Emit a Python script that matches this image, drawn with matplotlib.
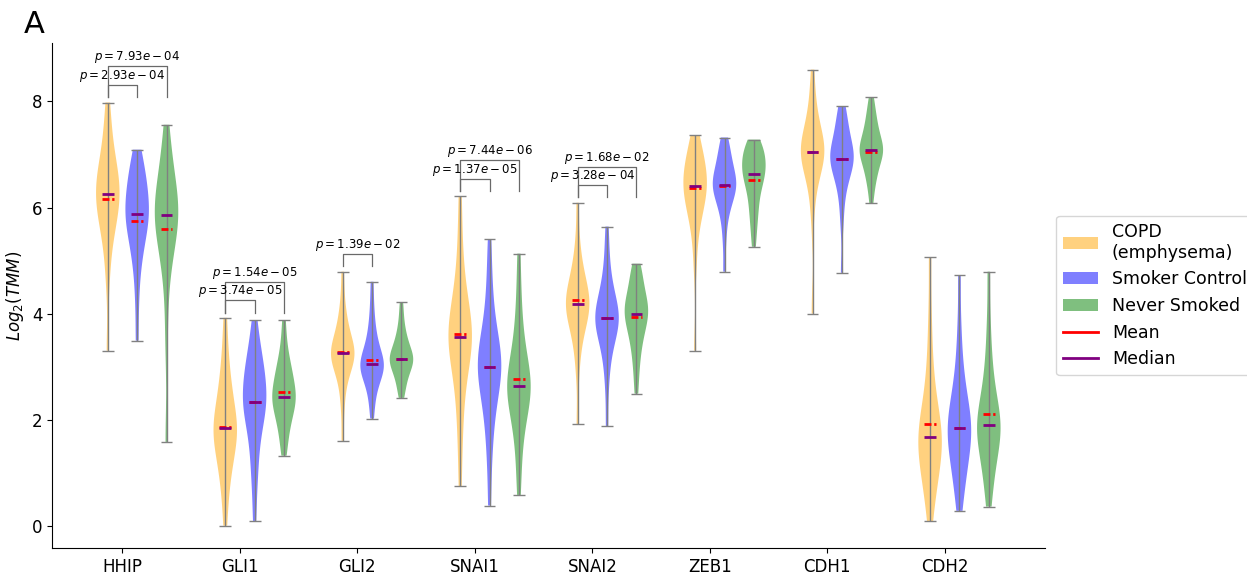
import numpy as np
import matplotlib
matplotlib.use('Agg')
import matplotlib.pyplot as plt
from matplotlib.patches import Patch
from matplotlib.lines import Line2D

genes = ['HHIP', 'GLI1', 'GLI2', 'SNAI1', 'SNAI2', 'ZEB1', 'CDH1', 'CDH2']
groups = ['COPD\n(emphysema)', 'Smoker Control', 'Never Smoked']

# log2(TMM) 값 (그림에서 읽은 분포 근사)
copd_vals = [
    [3.30, 4.6, 5.1, 5.4, 5.6, 5.75, 5.85, 5.95, 6.05, 6.15, 6.22, 6.3, 6.38, 6.45, 6.55, 6.65, 6.75, 6.9, 7.05, 7.3, 7.6, 7.98],
    [0.0, 0.5, 0.8, 1.0, 1.2, 1.35, 1.45, 1.55, 1.65, 1.75, 1.82, 1.88, 1.95, 2.05, 2.15, 2.3, 2.45, 2.6, 2.8, 3.05, 3.4, 3.92],
    [1.60, 2.2, 2.55, 2.75, 2.9, 3.0, 3.07, 3.13, 3.18, 3.22, 3.24, 3.26, 3.3, 3.36, 3.42, 3.5, 3.6, 3.72, 3.85, 4.0, 4.3, 4.79],
    [0.74, 1.5, 2.0, 2.4, 2.7, 2.95, 3.1, 3.25, 3.38, 3.48, 3.53, 3.57, 3.65, 3.75, 3.88, 4.0, 4.15, 4.35, 4.6, 4.95, 5.5, 6.21],
    [1.91, 2.9, 3.3, 3.55, 3.7, 3.82, 3.92, 4.0, 4.07, 4.13, 4.16, 4.2, 4.26, 4.33, 4.4, 4.48, 4.58, 4.7, 4.85, 5.05, 5.4, 6.09],
    [3.30, 4.9, 5.4, 5.7, 5.85, 5.97, 6.07, 6.15, 6.25, 6.33, 6.38, 6.42, 6.48, 6.55, 6.62, 6.7, 6.78, 6.87, 6.97, 7.08, 7.2, 7.36],
    [4.00, 5.8, 6.25, 6.5, 6.65, 6.77, 6.86, 6.93, 6.99, 7.03, 7.05, 7.07, 7.11, 7.17, 7.24, 7.32, 7.42, 7.55, 7.7, 7.9, 8.2, 8.60],
    [0.08, 0.45, 0.7, 0.88, 1.02, 1.15, 1.27, 1.38, 1.48, 1.58, 1.65, 1.71, 1.8, 1.9, 2.02, 2.16, 2.34, 2.58, 2.9, 3.35, 4.0, 5.06],
]
smoker_vals = [
    [3.49, 4.2, 4.7, 5.0, 5.2, 5.35, 5.5, 5.6, 5.7, 5.8, 5.85, 5.9, 6.0, 6.1, 6.2, 6.3, 6.4, 6.5, 6.6, 6.75, 6.9, 7.09],
    [0.09, 0.7, 1.05, 1.35, 1.6, 1.8, 1.97, 2.1, 2.2, 2.28, 2.32, 2.36, 2.5, 2.62, 2.72, 2.82, 2.92, 3.02, 3.15, 3.3, 3.55, 3.87],
    [2.02, 2.3, 2.5, 2.65, 2.75, 2.83, 2.9, 2.95, 2.99, 3.02, 3.03, 3.05, 3.1, 3.17, 3.25, 3.33, 3.42, 3.55, 3.7, 3.9, 4.2, 4.60],
    [0.38, 1.15, 1.6, 1.95, 2.2, 2.4, 2.55, 2.7, 2.82, 2.92, 2.98, 3.02, 3.1, 3.2, 3.3, 3.42, 3.55, 3.75, 4.0, 4.35, 4.8, 5.40],
    [1.88, 2.6, 3.0, 3.25, 3.42, 3.55, 3.65, 3.73, 3.81, 3.87, 3.9, 3.92, 3.98, 4.05, 4.13, 4.22, 4.32, 4.45, 4.62, 4.85, 5.2, 5.64],
    [4.79, 5.35, 5.7, 5.9, 6.03, 6.13, 6.21, 6.28, 6.34, 6.39, 6.42, 6.44, 6.5, 6.56, 6.62, 6.69, 6.77, 6.86, 6.96, 7.07, 7.19, 7.32],
    [4.77, 5.7, 6.1, 6.35, 6.5, 6.62, 6.72, 6.8, 6.86, 6.9, 6.92, 6.94, 6.99, 7.05, 7.12, 7.2, 7.29, 7.4, 7.52, 7.65, 7.78, 7.91],
    [0.28, 0.6, 0.85, 1.03, 1.18, 1.31, 1.43, 1.54, 1.65, 1.75, 1.82, 1.88, 1.97, 2.07, 2.18, 2.3, 2.45, 2.65, 2.9, 3.25, 3.8, 4.72],
]
never_vals = [
    [1.58, 3.5, 4.4, 4.9, 5.1, 5.3, 5.45, 5.6, 5.7, 5.78, 5.82, 5.88, 5.95, 6.05, 6.15, 6.25, 6.4, 6.55, 6.7, 6.9, 7.2, 7.56],
    [1.32, 1.55, 1.75, 1.9, 2.0, 2.1, 2.2, 2.28, 2.35, 2.4, 2.42, 2.45, 2.55, 2.65, 2.72, 2.8, 2.88, 2.98, 3.1, 3.25, 3.5, 3.87],
    [2.41, 2.55, 2.68, 2.78, 2.86, 2.93, 2.99, 3.04, 3.09, 3.12, 3.14, 3.16, 3.2, 3.25, 3.31, 3.37, 3.44, 3.52, 3.62, 3.75, 3.95, 4.21],
    [0.58, 1.1, 1.5, 1.8, 2.0, 2.15, 2.28, 2.4, 2.5, 2.58, 2.62, 2.66, 2.75, 2.85, 2.97, 3.1, 3.25, 3.45, 3.7, 4.05, 4.5, 5.13],
    [2.49, 2.85, 3.1, 3.3, 3.45, 3.58, 3.68, 3.77, 3.85, 3.93, 3.98, 4.02, 4.08, 4.14, 4.2, 4.27, 4.35, 4.45, 4.57, 4.7, 4.82, 4.94],
    [5.26, 5.55, 5.75, 5.92, 6.06, 6.2, 6.32, 6.42, 6.5, 6.58, 6.62, 6.66, 6.72, 6.78, 6.84, 6.9, 6.96, 7.02, 7.08, 7.14, 7.2, 7.28],
    [6.08, 6.35, 6.5, 6.62, 6.72, 6.8, 6.88, 6.95, 7.01, 7.06, 7.08, 7.1, 7.15, 7.21, 7.28, 7.35, 7.43, 7.52, 7.62, 7.74, 7.88, 8.08],
    [0.36, 0.7, 0.95, 1.15, 1.3, 1.43, 1.55, 1.66, 1.76, 1.84, 1.88, 1.92, 2.0, 2.1, 2.22, 2.36, 2.52, 2.72, 3.0, 3.35, 3.9, 4.79],
]

# 평균 / 중앙값
copd_mean = [6.17, 1.87, 3.28, 3.62, 4.26, 6.36, 7.05, 1.92]
copd_median = [6.26, 1.85, 3.25, 3.55, 4.18, 6.40, 7.05, 1.68]
smoker_mean = [5.74, 2.34, 3.13, 3.00, 3.91, 6.40, 6.92, 1.85]
smoker_median = [5.87, 2.34, 3.04, 3.00, 3.91, 6.43, 6.92, 1.85]
never_mean = [5.60, 2.53, 3.15, 2.77, 3.93, 6.51, 7.05, 2.11]
never_median = [5.85, 2.43, 3.15, 2.64, 4.00, 6.64, 7.09, 1.89]

# p-value : (유전자 index, 비교 그룹 index, 텍스트)
pval_gene = [0, 0, 1, 1, 2, 3, 3, 4, 4]
pval_group = [1, 2, 1, 2, 1, 1, 2, 1, 2]
pval_text = ['2.93e-04', '7.93e-04', '3.74e-05', '1.54e-05', '1.39e-02',
             '1.37e-05', '7.44e-06', '3.28e-04', '1.68e-02']

colors = ['orange', 'blue', 'green']
all_vals = [copd_vals, smoker_vals, never_vals]
all_mean = [copd_mean, smoker_mean, never_mean]
all_median = [copd_median, smoker_median, never_median]

fig = plt.figure(figsize=(12.47, 5.75), dpi=100)
ax = fig.add_axes([0.0417, 0.047, 0.796, 0.878])

w = 0.8
for j in range(3):
    pos = np.arange(len(genes)) * 4 + j
    vp = ax.violinplot(all_vals[j], positions=pos, widths=w, showextrema=True, bw_method=0.42)
    for b in vp['bodies']:
        b.set_facecolor(colors[j])
        b.set_edgecolor('none')
        b.set_alpha(0.5)
    for k in ['cbars', 'cmins', 'cmaxes']:
        vp[k].set_color('grey')
        vp[k].set_linewidth(1)
    ax.hlines(all_mean[j], pos - w / 4, pos + w / 4, colors='red', linestyles=(0, (2.5, 1)), lw=2, zorder=3)
    ax.hlines(all_median[j], pos - w / 4, pos + w / 4, colors='purple', lw=2, zorder=4)

# p-value 괄호
for g, grp, txt in zip(pval_gene, pval_group, pval_text):
    m = max(max(all_vals[0][g]), max(all_vals[1][g]), max(all_vals[2][g]))
    x1 = g * 4
    x2 = g * 4 + grp
    h = m + (0.33 if grp == 1 else 0.68)
    ax.plot([x1, x1, x2, x2], [m + 0.1, h, h, m + 0.1], color='dimgray', lw=0.9)
    ax.text((x1 + x2) / 2, h + 0.02, '$p = %s$' % txt, ha='center', va='bottom', fontsize=8.5)

ax.set_xticks(np.arange(len(genes)) * 4 + 0.5)
ax.set_xticklabels(genes, fontsize=12)
ax.set_yticks([0, 2, 4, 6, 8])
ax.tick_params(axis='y', labelsize=12)
ax.set_xlim(-1.9, 31.9)
ax.set_ylim(-0.42, 9.1)
ax.set_ylabel('$Log_2(TMM)$', fontsize=12)
ax.spines['top'].set_visible(False)
ax.spines['right'].set_visible(False)

handles = [Patch(facecolor=c, alpha=0.5) for c in colors]
handles += [Line2D([0], [0], color='red', lw=2), Line2D([0], [0], color='purple', lw=2)]
ax.legend(handles, groups + ['Mean', 'Median'], loc='center left', bbox_to_anchor=(1.003, 0.5), fontsize=12.5)

fig.text(0.0192, 0.9426, 'A', fontsize=22, va='baseline')

fig.savefig('out.png', dpi=100)
